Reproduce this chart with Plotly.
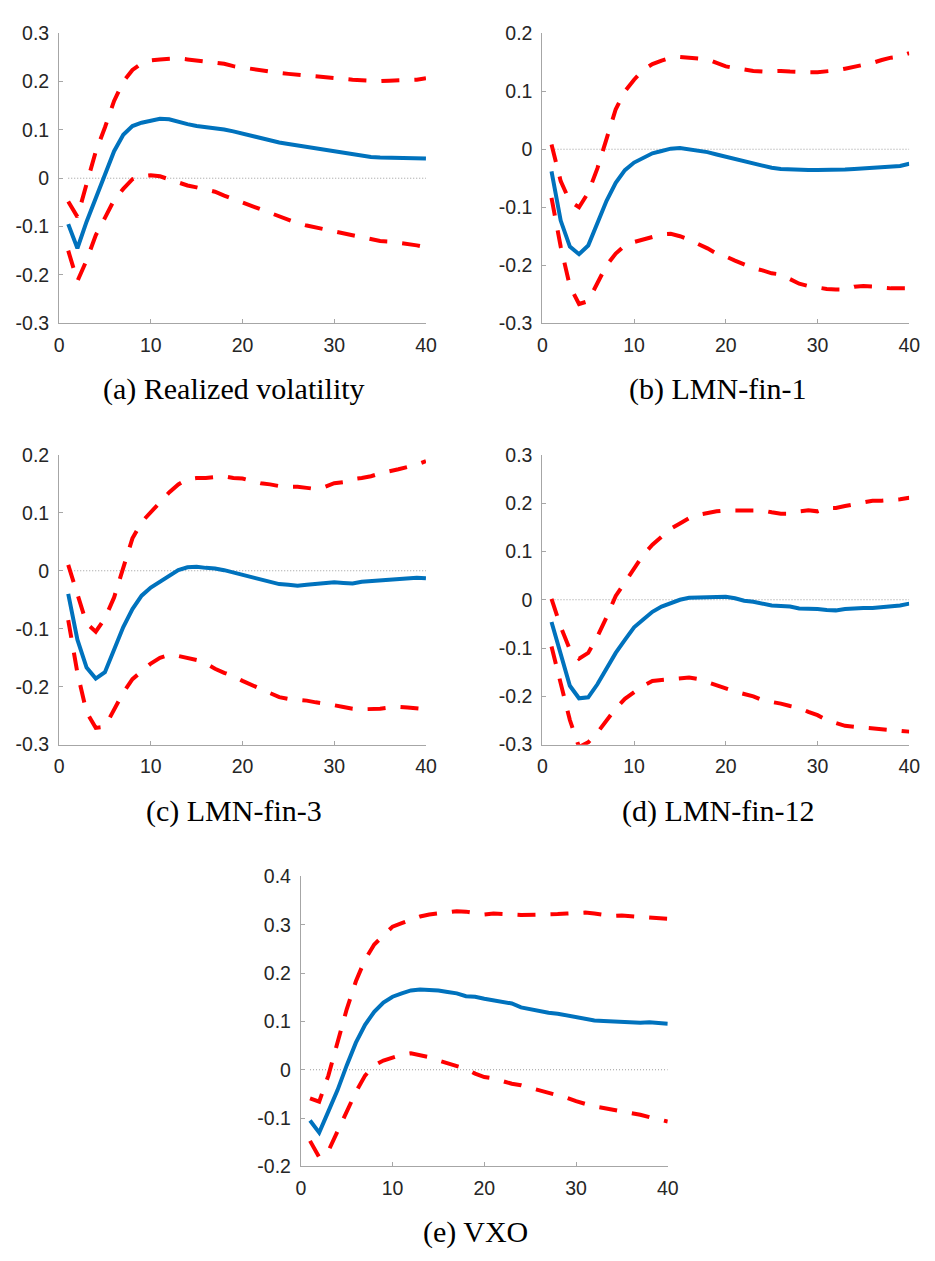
import plotly.graph_objects as go

# ---------------- data ----------------
horizon = list(range(1, 41))
x_ticks = [0, 10, 20, 30, 40]
x_tick_labels = ["0", "10", "20", "30", "40"]

# (a) Realized volatility
rv_irf = [-0.095, -0.145, -0.09, -0.04, 0.01, 0.056, 0.09, 0.108, 0.115, 0.12,
          0.123, 0.122, 0.116, 0.112, 0.108, 0.106, 0.104, 0.101, 0.097, 0.092,
          0.087, 0.082, 0.078, 0.074, 0.071, 0.068, 0.065, 0.061, 0.058, 0.055,
          0.051, 0.048, 0.047, 0.044, 0.043, 0.043, 0.043, 0.043, 0.042, 0.041]
rv_hi = [-0.048, -0.08, -0.012, 0.055, 0.105, 0.16, 0.2, 0.224, 0.238, 0.244,
         0.246, 0.248, 0.248, 0.246, 0.244, 0.242, 0.24, 0.237, 0.232, 0.229,
         0.226, 0.222, 0.22, 0.218, 0.216, 0.214, 0.213, 0.212, 0.21, 0.207,
         0.205, 0.204, 0.203, 0.201, 0.201, 0.202, 0.202, 0.203, 0.204, 0.207]
rv_lo = [-0.15, -0.213, -0.17, -0.118, -0.082, -0.045, -0.022, -0.002, 0.004, 0.006,
         0.004, -0.003, -0.008, -0.015, -0.019, -0.023, -0.028, -0.036, -0.043, -0.052,
         -0.059, -0.066, -0.073, -0.08, -0.087, -0.093, -0.098, -0.102, -0.106, -0.11,
         -0.115, -0.119, -0.124, -0.128, -0.13, -0.131, -0.133, -0.135, -0.139, -0.143]

# (b) LMN-fin-1
f1_irf = [-0.038, -0.123, -0.168, -0.181, -0.166, -0.129, -0.089, -0.058, -0.036, -0.023,
          -0.015, -0.007, -0.003, 0.001, 0.002, 0.0, -0.002, -0.005, -0.009, -0.013,
          -0.017, -0.02, -0.024, -0.028, -0.032, -0.034, -0.035, -0.036, -0.036, -0.036,
          -0.036, -0.036, -0.035, -0.034, -0.033, -0.032, -0.03, -0.03, -0.029, -0.025]
f1_hi = [0.008, -0.055, -0.09, -0.1, -0.075, -0.033, 0.018, 0.069, 0.1, 0.12,
         0.137, 0.147, 0.153, 0.158, 0.159, 0.158, 0.156, 0.155, 0.149, 0.143,
         0.14, 0.137, 0.135, 0.134, 0.135, 0.135, 0.134, 0.133, 0.133, 0.133,
         0.134, 0.136, 0.139, 0.142, 0.145, 0.149, 0.154, 0.158, 0.16, 0.166]
f1_lo = [-0.084, -0.168, -0.236, -0.267, -0.262, -0.231, -0.2, -0.18, -0.166, -0.16,
         -0.156, -0.151, -0.147, -0.146, -0.15, -0.156, -0.163, -0.171, -0.18, -0.185,
         -0.192, -0.199, -0.205, -0.209, -0.214, -0.216, -0.224, -0.232, -0.236, -0.239,
         -0.241, -0.242, -0.242, -0.237, -0.236, -0.237, -0.239, -0.24, -0.24, -0.24]

# (c) LMN-fin-3
f3_irf = [-0.04, -0.119, -0.167, -0.186, -0.175, -0.136, -0.097, -0.066, -0.043, -0.029,
          -0.019, -0.011, 0.001, 0.006, 0.007, 0.005, 0.004, 0.001, -0.003, -0.006,
          -0.011, -0.015, -0.019, -0.023, -0.024, -0.026, -0.024, -0.023, -0.022, -0.02,
          -0.021, -0.022, -0.019, -0.018, -0.016, -0.015, -0.015, -0.014, -0.012, -0.013]
f3_hi = [0.01, -0.04, -0.091, -0.105, -0.082, -0.046, 0.005, 0.056, 0.084, 0.102,
         0.118, 0.135, 0.149, 0.158, 0.16, 0.16, 0.162, 0.163, 0.16, 0.159,
         0.155, 0.151, 0.149, 0.146, 0.145, 0.145, 0.143, 0.141, 0.145, 0.151,
         0.153, 0.158, 0.16, 0.163, 0.168, 0.171, 0.175, 0.179, 0.183, 0.189]
f3_lo = [-0.085, -0.176, -0.244, -0.271, -0.269, -0.241, -0.21, -0.187, -0.173, -0.16,
         -0.15, -0.145, -0.147, -0.15, -0.154, -0.16, -0.169, -0.176, -0.182, -0.19,
         -0.197, -0.205, -0.212, -0.218, -0.221, -0.222, -0.224, -0.227, -0.229, -0.232,
         -0.235, -0.238, -0.239, -0.239, -0.238, -0.236, -0.235, -0.236, -0.238, -0.239]

# (d) LMN-fin-12
f12_irf = [-0.046, -0.11, -0.178, -0.204, -0.202, -0.175, -0.141, -0.11, -0.083, -0.057,
           -0.041, -0.025, -0.014, -0.006, 0.0, 0.004, 0.004, 0.004, 0.0045, 0.006,
           0.003, -0.002, -0.004, -0.008, -0.012, -0.013, -0.014, -0.018, -0.018, -0.019,
           -0.021, -0.022, -0.019, -0.017, -0.017, -0.017, -0.016, -0.015, -0.012, -0.008]
f12_hi = [0.002, -0.056, -0.103, -0.122, -0.11, -0.076, -0.036, 0.008, 0.036, 0.063,
          0.093, 0.114, 0.131, 0.147, 0.158, 0.169, 0.176, 0.18, 0.183, 0.185,
          0.185, 0.185, 0.186, 0.185, 0.181, 0.178, 0.178, 0.183, 0.185, 0.183,
          0.19, 0.19, 0.194, 0.198, 0.203, 0.205, 0.205, 0.206, 0.208, 0.211]
f12_lo = [-0.097, -0.171, -0.249, -0.305, -0.295, -0.275, -0.25, -0.225, -0.205, -0.192,
          -0.178, -0.168, -0.166, -0.163, -0.161, -0.161, -0.164, -0.171, -0.178, -0.185,
          -0.19, -0.195, -0.2, -0.208, -0.211, -0.215, -0.22, -0.224, -0.232, -0.239,
          -0.249, -0.256, -0.261, -0.263, -0.265, -0.266, -0.269, -0.271, -0.273, -0.273]

# (e) VXO
vxo_irf = [-0.105, -0.13, -0.086, -0.042, 0.009, 0.056, 0.093, 0.12, 0.139, 0.151,
           0.158, 0.164, 0.166, 0.166, 0.164, 0.161, 0.158, 0.152, 0.151, 0.147,
           0.143, 0.141, 0.137, 0.129, 0.125, 0.122, 0.118, 0.116, 0.112, 0.109,
           0.105, 0.102, 0.101, 0.1, 0.099, 0.096, 0.097, 0.098, 0.097, 0.095]
vxo_hi = [-0.059, -0.066, -0.012, 0.058, 0.125, 0.183, 0.228, 0.259, 0.279, 0.296,
          0.303, 0.31, 0.317, 0.321, 0.323, 0.327, 0.328, 0.327, 0.323, 0.321,
          0.323, 0.323, 0.321, 0.32, 0.32, 0.321, 0.321, 0.322, 0.323, 0.325,
          0.325, 0.323, 0.32, 0.318, 0.319, 0.318, 0.317, 0.316, 0.313, 0.312]
vxo_lo = [-0.147, -0.181, -0.168, -0.127, -0.086, -0.046, -0.012, 0.009, 0.019, 0.026,
          0.031, 0.034, 0.03, 0.026, 0.019, 0.014, 0.009, 0.002, -0.008, -0.015,
          -0.018, -0.024, -0.029, -0.032, -0.037, -0.042, -0.047, -0.052, -0.058, -0.065,
          -0.071, -0.076, -0.079, -0.082, -0.085, -0.088, -0.093, -0.098, -0.103, -0.107]

zero_ref = [0.0] * len(horizon)

yt_a = [-0.3, -0.2, -0.1, 0, 0.1, 0.2, 0.3]
yl_a = ["-0.3", "-0.2", "-0.1", "0", "0.1", "0.2", "0.3"]
yt_b = [-0.3, -0.2, -0.1, 0, 0.1, 0.2]
yl_b = ["-0.3", "-0.2", "-0.1", "0", "0.1", "0.2"]
yt_e = [-0.2, -0.1, 0, 0.1, 0.2, 0.3, 0.4]
yl_e = ["-0.2", "-0.1", "0", "0.1", "0.2", "0.3", "0.4"]

captions = ["(a) Realized volatility", "(b) LMN-fin-1", "(c) LMN-fin-3",
            "(d) LMN-fin-12", "(e) VXO"]

# ---------------- layout ----------------
W, H = 935, 1261
panels = [
    dict(irf=rv_irf, hi=rv_hi, lo=rv_lo, yt=yt_a, yl=yl_a, yr=[-0.3, 0.3],
         x0=55, x1=428.3, yt0=22.7, yb0=317.7, cx=233, cy=385),
    dict(irf=f1_irf, hi=f1_hi, lo=f1_lo, yt=yt_b, yl=yl_b, yr=[-0.3, 0.2],
         x0=546.7, x1=920, yt0=22.7, yb0=317.7, cx=725, cy=385),
    dict(irf=f3_irf, hi=f3_hi, lo=f3_lo, yt=yt_b, yl=yl_b, yr=[-0.3, 0.2],
         x0=55, x1=428.3, yt0=451.7, yb0=746.7, cx=233, cy=814),
    dict(irf=f12_irf, hi=f12_hi, lo=f12_lo, yt=yt_a, yl=yl_a, yr=[-0.3, 0.3],
         x0=546.7, x1=920, yt0=451.7, yb0=746.7, cx=725, cy=814),
    dict(irf=vxo_irf, hi=vxo_hi, lo=vxo_lo, yt=yt_e, yl=yl_e, yr=[-0.2, 0.4],
         x0=301, x1=674.3, yt0=880.7, yb0=1176, cx=479, cy=1243),
]

AX = "#a6a6a6"
TXT = "#262626"
tickfont = dict(family="Liberation Sans, Arial, sans-serif", size=19.5, color=TXT)

fig = go.Figure()
layout = dict(width=W, height=H, margin=dict(l=0, r=0, t=0, b=0),
              paper_bgcolor="white", plot_bgcolor="white", showlegend=False,
              annotations=[])

for i, p in enumerate(panels):
    n = "" if i == 0 else str(i + 1)
    xa, ya = "x" + n, "y" + n
    fig.add_trace(go.Scatter(x=horizon, y=zero_ref, mode="lines", xaxis=xa, yaxis=ya,
                             line=dict(color="#9a9a9a", width=1, dash="1px,2px"),
                             hoverinfo="skip"))
    fig.add_trace(go.Scatter(x=horizon, y=p["irf"], mode="lines", xaxis=xa, yaxis=ya,
                             line=dict(color="#0072BD", width=4)))
    fig.add_trace(go.Scatter(x=horizon, y=p["hi"], mode="lines", xaxis=xa, yaxis=ya,
                             line=dict(color="#FF0000", width=4, dash="18px,15px")))
    fig.add_trace(go.Scatter(x=horizon, y=p["lo"], mode="lines", xaxis=xa, yaxis=ya,
                             line=dict(color="#FF0000", width=4, dash="18px,15px")))
    layout["xaxis" + n] = dict(domain=[p["x0"] / W, p["x1"] / W], anchor=ya,
                               range=[0, 40], tickvals=x_ticks, ticktext=x_tick_labels,
                               ticks="inside", ticklen=4, tickcolor=AX, tickwidth=1,
                               showline=True, linecolor=AX, linewidth=1,
                               showgrid=False, zeroline=False, tickfont=tickfont,
                               ticklabelstandoff=4, fixedrange=True)
    layout["yaxis" + n] = dict(domain=[1 - p["yb0"] / H, 1 - p["yt0"] / H], anchor=xa,
                               range=p["yr"], tickvals=p["yt"], ticktext=p["yl"],
                               ticks="inside", ticklen=4, tickcolor=AX, tickwidth=1,
                               showline=True, linecolor=AX, linewidth=1,
                               showgrid=False, zeroline=False, tickfont=tickfont,
                               ticklabelstandoff=5, fixedrange=True)
    layout["annotations"].append(dict(
        text=captions[i], xref="paper", yref="paper", x=p["cx"] / W, y=1 - p["cy"] / H,
        xanchor="center", yanchor="middle", showarrow=False,
        font=dict(family="Liberation Serif, Times New Roman, serif", size=30, color="black")))

fig.update_layout(**layout)
fig.write_html("out.html")
